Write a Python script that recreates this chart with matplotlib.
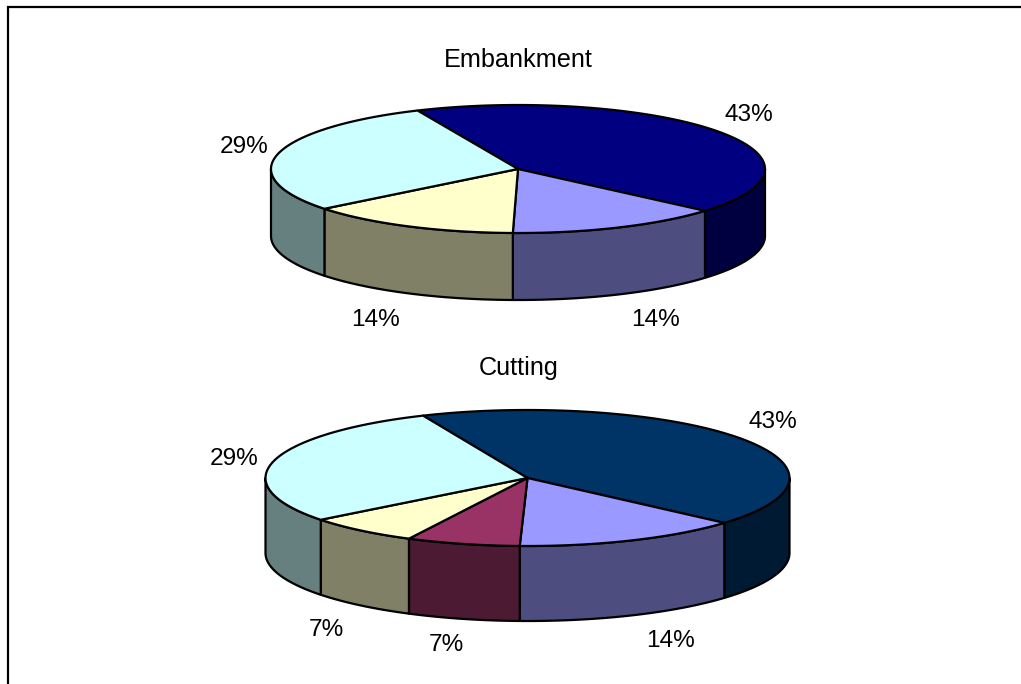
import numpy as np
import matplotlib
matplotlib.use('Agg')
import matplotlib.pyplot as plt
from matplotlib.patches import Polygon

plt.rcParams['font.family'] = ['Liberation Sans', 'DejaVu Sans']

embankment_values = [43, 14, 14, 29]
embankment_colors = ['#000080', '#9999FF', '#FFFFCC', '#CCFFFF']
cutting_values = [43, 14, 7, 7, 29]
cutting_colors = ['#003366', '#9999FF', '#993366', '#FFFFCC', '#CCFFFF']

# label centres in pixels
embankment_labels = [(749, 115), (655, 320), (375, 320), (244, 147)]
cutting_labels = [(773, 422), (670, 641), (446, 645), (326, 630), (234, 459)]


def darker(color):
    r, g, b = matplotlib.colors.to_rgb(color)
    return (r * 0.5, g * 0.5, b * 0.5)


def pie3d(ax, values, colors, labels, cx, cy, rx, ry, depth, start):
    # pie runs clockwise from the start angle, every slice from its value
    angles = start - np.cumsum([0] + values) * 3.6

    # side walls first: only the part facing the viewer (180..360 deg)
    for i, color in enumerate(colors):
        a1, a2 = angles[i], angles[i + 1]
        lo = a2
        hi = min(a1, 0)
        if lo < -180:
            lo = -180
        if hi > lo:
            t = np.radians(np.linspace(hi, lo, 80))
            x = cx + rx * np.cos(t)
            y = cy - ry * np.sin(t)
            pts = np.r_[np.c_[x, y], np.c_[x[::-1], y[::-1] + depth]]
            ax.add_patch(Polygon(pts, closed=True, fc=darker(color), ec='black',
                                 lw=1.6, joinstyle='round'))

    # top of the pie
    for i, color in enumerate(colors):
        t = np.radians(np.linspace(angles[i], angles[i + 1], 120))
        x = cx + rx * np.cos(t)
        y = cy - ry * np.sin(t)
        pts = np.r_[[[cx, cy]], np.c_[x, y]]
        ax.add_patch(Polygon(pts, closed=True, fc=color, ec='black',
                             lw=1.6, joinstyle='round'))

    for v, (lx, ly) in zip(values, labels):
        ax.text(lx, ly, '{0}%'.format(v), fontsize=17.6, ha='center', va='center')


fig = plt.figure(figsize=(10.21, 6.84), dpi=100)
ax = fig.add_axes([0, 0, 1, 1])
ax.set_xlim(0, 1021)
ax.set_ylim(684, 0)
ax.axis('off')

# chart area border, only top and left are in frame
ax.plot([8, 8, 1021], [684, 7, 7], color='black', lw=1.6, solid_joinstyle='miter')

ax.text(518.5, 60, 'Embankment', fontsize=18.2, ha='center', va='center')
pie3d(ax, embankment_values, embankment_colors, embankment_labels,
      518, 169, 247, 64, 67, 114)

ax.text(519, 368, 'Cutting', fontsize=18.2, ha='center', va='center')
pie3d(ax, cutting_values, cutting_colors, cutting_labels,
      527.5, 478, 262, 68, 75, 113.5)

fig.savefig('out.png', dpi=100)
